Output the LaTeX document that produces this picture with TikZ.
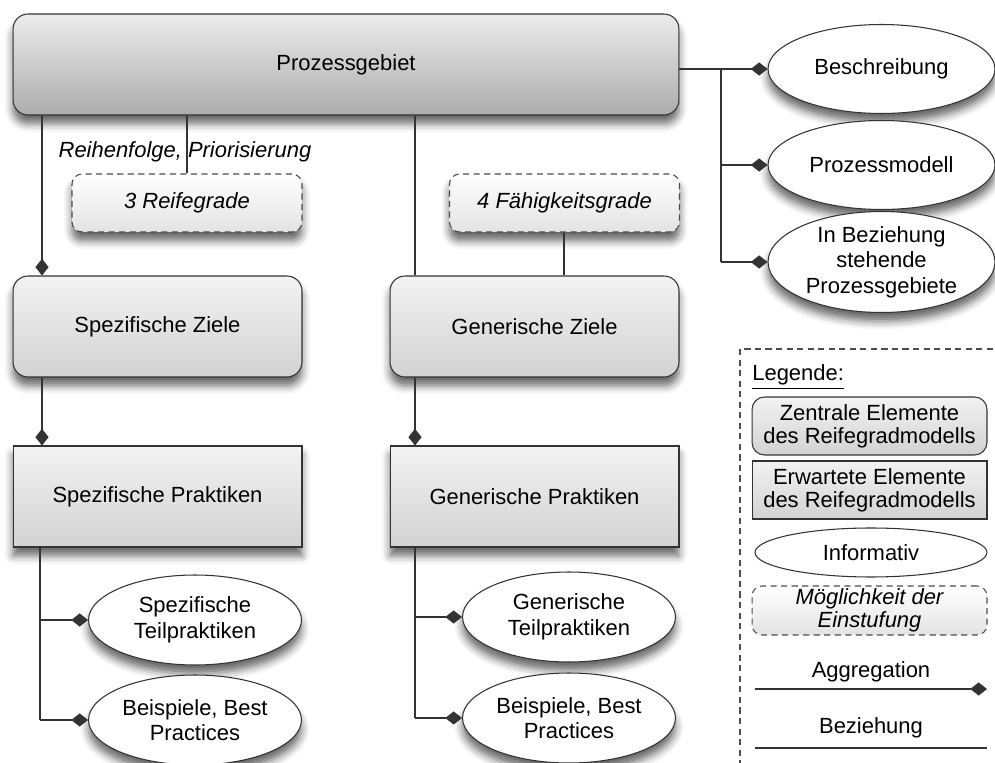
\documentclass[tikz,border=0pt]{standalone}
\usepackage{fontspec}
\setmainfont{Liberation Sans}
\usetikzlibrary{arrows.meta,shapes.geometric,shadows.blur}
\begin{document}
\begin{tikzpicture}[x=0.02cm,y=-0.02cm,
  font=\fontsize{12.5}{14.5}\selectfont,
  conn/.style={draw=black!80, line width=0.6pt},
  agg/.style={conn, -{Diamond[length=9.5pt,width=7.5pt]}},
  shad/.style={blur shadow={shadow xshift=0pt,shadow yshift=-5pt,shadow blur radius=4.5pt,shadow opacity=60}},
  pgbox/.style={draw=black!80, line width=0.6pt, rounded corners=0.3cm, top color=gray!15, bottom color=gray!65, minimum width=13.32cm, minimum height=2.02cm, inner sep=0pt},
  zentral/.style={draw=black!80, line width=0.6pt, rounded corners=0.3cm, top color=gray!10, bottom color=gray!35, minimum width=5.78cm, minimum height=2.02cm, inner sep=0pt, align=center},
  erwartet/.style={draw=black!80, line width=0.6pt, top color=gray!10, bottom color=gray!35, minimum width=5.78cm, minimum height=2.02cm, inner sep=0pt, align=center},
  grad/.style={draw=black!70, line width=0.6pt, dash pattern=on 3.5pt off 2.5pt, rounded corners=0.2cm, top color=white, bottom color=gray!22, minimum width=4.6cm, minimum height=1.16cm, inner sep=0pt, align=center, font=\fontsize{12.5}{13}\selectfont\itshape},
  info/.style={draw=black!80, line width=0.6pt, ellipse, fill=white, minimum width=4.26cm, minimum height=1.8cm, inner sep=0pt, align=center},
  legtext/.style={font=\fontsize{12.5}{13}\selectfont}
]
\useasboundingbox (0,0) rectangle (995,763);
\clip (0,0) rectangle (995,763);

% main nodes
\node[pgbox, shad] (pg) at (346,64.5) {Prozessgebiet};
\node[grad, shad] (rg) at (187,203) {3 Reifegrade};
\node[grad, shad] (fg) at (564.5,203) {4 Fähigkeitsgrade};
\node[zentral, shad] (sz) at (157.5,326.5) {Spezifische Ziele};
\node[zentral, shad] (gz) at (534.5,326.5) {Generische Ziele};
\node[erwartet, shad] (sp) at (157.5,496.5) {Spezifische Praktiken};
\node[erwartet, shad] (gp) at (534.5,496.5) {Generische Praktiken};
\node[info, shad] (stp) at (195,620) {Spezifische\\Teilpraktiken};
\node[info, shad] (sbp) at (195,720) {Beispiele, Best\\Practices};
\node[info, shad] (gtp) at (569,617) {Generische\\Teilpraktiken};
\node[info, shad] (gbp) at (569,718) {Beispiele, Best\\Practices};
\node[info, shad, minimum width=4.54cm, minimum height=1.78cm] (be) at (881.5,69) {Beschreibung};
\node[info, shad, minimum width=4.54cm, minimum height=1.78cm] (pm) at (881.5,165) {Prozessmodell};
\node[info, shad, minimum width=4.54cm, minimum height=1.78cm] (ib) at (881.5,262) {In Beziehung\\stehende\\Prozessgebiete};

\node[font=\fontsize{12.5}{14.5}\selectfont\itshape] (rp) at (185,152) {Reihenfolge, Priorisierung};

% helper coordinates
\coordinate (xa) at (42,0);
\coordinate (xb) at (187,0);
\coordinate (xc) at (415,0);
\coordinate (xd) at (564,0);
\coordinate (xe) at (40,0);
\coordinate (xr) at (721,0);

% connectors
\draw[agg] (pg.south -| xa) -- (sz.north -| xa);
\draw[conn] (pg.south -| xb) -- (rg.north -| xb);
\draw[conn] (pg.south -| xc) -- (gz.north -| xc);
\draw[conn] (fg.south -| xd) -- (gz.north -| xd);
\draw[agg] (sz.south -| xa) -- (sp.north -| xa);
\draw[agg] (gz.south -| xc) -- (gp.north -| xc);
\draw[conn] (sp.south -| xe) -- (sbp.west -| xe);
\draw[agg] (stp.west -| xe) -- (stp.west);
\draw[agg] (sbp.west -| xe) -- (sbp.west);
\draw[conn] (gp.south -| xc) -- (gbp.west -| xc);
\draw[agg] (gtp.west -| xc) -- (gtp.west);
\draw[agg] (gbp.west -| xc) -- (gbp.west);
\draw[agg] (pg.east |- be.west) -- (be.west);
\draw[conn] (be.west -| xr) -- (ib.west -| xr);
\draw[agg] (pm.west -| xr) -- (pm.west);
\draw[agg] (ib.west -| xr) -- (ib.west);

% legend
\draw[draw=black!70, line width=0.6pt, dash pattern=on 3.5pt off 2.5pt] (740,349) rectangle (1010,780);
\node[anchor=west, inner sep=0pt] (lg) at (752,377) {\underline{Legende:}};
\node[zentral, legtext, minimum width=4.7cm, minimum height=1.16cm, rounded corners=0.25cm] (lz) at (869.5,426) {Zentrale Elemente\\des Reifegradmodells};
\node[erwartet, legtext, minimum width=4.7cm, minimum height=1.16cm] (le) at (869.5,490) {Erwartete Elemente\\des Reifegradmodells};
\node[info, legtext, minimum width=4.64cm, minimum height=0.98cm] (li) at (871,552.5) {Informativ};
\node[grad, minimum width=4.7cm, minimum height=0.98cm] (lm) at (869.5,610.5) {Möglichkeit der\\Einstufung};
\node[legtext] (la) at (871,672) {Aggregation};
\coordinate (la1) at (755,689);
\coordinate (la2) at (987,689);
\draw[agg] (la1) -- (la2);
\node[legtext] (lb) at (871,728) {Beziehung};
\coordinate (lb1) at (755,748);
\coordinate (lb2) at (987,748);
\draw[conn] (lb1) -- (lb2);
\end{tikzpicture}
\end{document}
